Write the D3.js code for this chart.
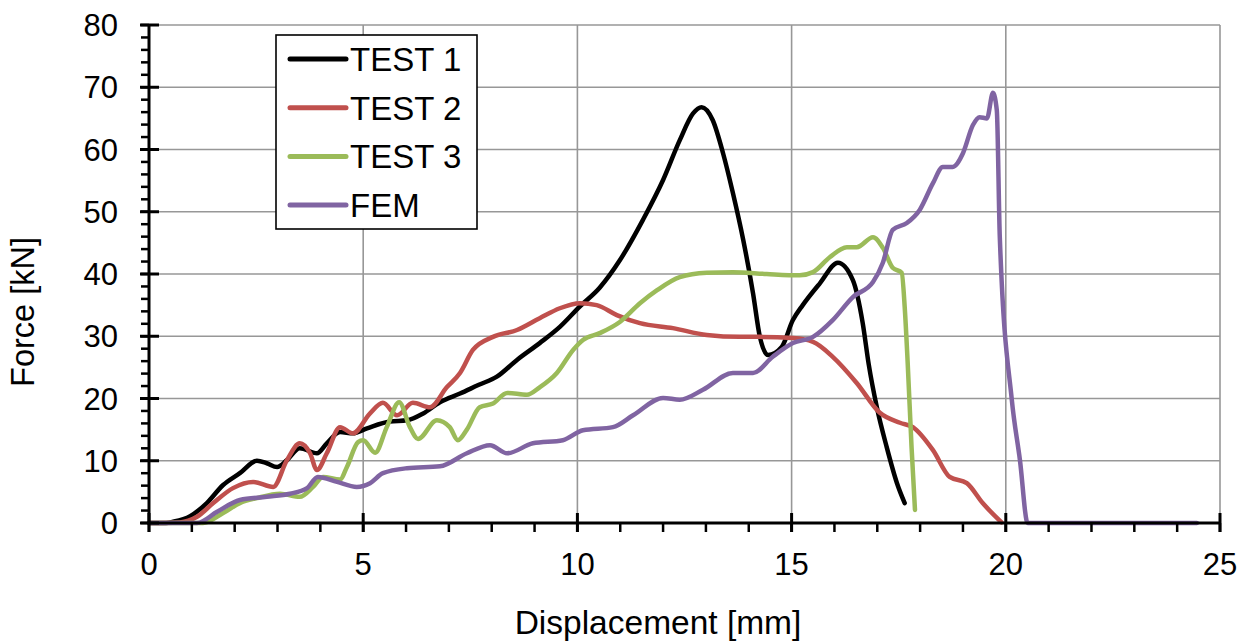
<!DOCTYPE html>
<html>
<head>
<meta charset="utf-8">
<script src="https://cdn.jsdelivr.net/npm/d3@7"></script>
<style>
  body { margin: 0; background: #fff; }
  text { font-family: "Liberation Sans", Arial, sans-serif; fill: #000; }
</style>
</head>
<body>
<svg id="chart" width="1250" height="642"></svg>
<script>
// Series data: [displacement mm, force kN]
const test1 = [
  [0, 0], [0.4, 0], [0.56, 0.2], [0.96, 1.1], [1.35, 3.2], [1.73, 6.1], [2.12, 8.0],
  [2.52, 10.0], [2.75, 9.6], [2.99, 9.0], [3.22, 10.1], [3.52, 12.0], [3.92, 11.2],
  [4.15, 12.8], [4.46, 14.6], [4.76, 14.4], [5.09, 15.2], [5.62, 16.3], [6.02, 16.5],
  [6.4, 17.6], [6.79, 19.4], [7.26, 20.8], [7.7, 22.2], [8.12, 23.5], [8.59, 26.2],
  [9.12, 28.9], [9.59, 31.5], [10.06, 34.8], [10.52, 37.8], [10.99, 42.2], [11.53, 48.7],
  [12.0, 55.1], [12.39, 61.5], [12.7, 65.8], [12.9, 66.8], [13.16, 64.7], [13.4, 59.4],
  [13.63, 53], [13.87, 45.5], [14.1, 36.9], [14.26, 29.9], [14.45, 27], [14.77, 28.3],
  [15.03, 32.6], [15.26, 35], [15.66, 38.5], [16.08, 41.8], [16.43, 39], [16.66, 32.1],
  [16.8, 25.5], [16.99, 18.6], [17.22, 12.2], [17.46, 6.4], [17.64, 3.2]
];
const test2 = [
  [0, 0], [0.72, 0.1], [1.12, 1], [1.5, 3.2], [1.96, 5.6], [2.43, 6.6], [2.9, 5.8],
  [3.22, 10.1], [3.52, 12.8], [3.76, 11.2], [3.92, 8.5], [4.15, 11.2], [4.46, 15.4],
  [4.76, 14.4], [5.16, 17.6], [5.46, 19.3], [5.79, 17.3], [6.16, 19.3], [6.56, 18.6],
  [6.95, 21.8], [7.26, 24.1], [7.56, 27.8], [8.03, 29.9], [8.59, 31], [9.12, 32.9],
  [9.59, 34.5], [10.06, 35.3], [10.45, 35], [10.92, 33.4], [11.46, 32.1], [12.23, 31.3],
  [13.02, 30.2], [13.79, 29.9], [14.26, 29.9], [15.03, 29.7], [15.5, 29.1], [15.96, 26.7],
  [16.52, 22.5], [17.06, 17.7], [17.53, 16.1], [17.83, 15.4], [18.3, 11.7], [18.69, 7.4],
  [19.09, 6.4], [19.46, 3.2], [19.9, 0.1]
];
const test3 = [
  [0, 0], [1.26, 0], [1.73, 1.6], [2.12, 3.2], [2.52, 4], [3.06, 4.7], [3.52, 4.2],
  [3.83, 5.8], [4.06, 7.4], [4.46, 7.0], [4.62, 9], [4.88, 13], [5.0, 13.3], [5.28, 11.3],
  [5.55, 15.4], [5.84, 19.4], [6.09, 15.4], [6.28, 13.5], [6.72, 16.5], [7.02, 15.4],
  [7.21, 13.3], [7.42, 15], [7.72, 18.6], [8.03, 19.2], [8.36, 20.9], [8.82, 20.6],
  [9.12, 21.8], [9.52, 24.1], [9.9, 27.8], [10.13, 29.4], [10.52, 30.5], [10.99, 32.3],
  [11.46, 35.3], [11.86, 37.4], [12.39, 39.5], [13.02, 40.2], [13.63, 40.3], [14.42, 40],
  [15.19, 39.8], [15.5, 40.3], [15.89, 42.7], [16.29, 44.3], [16.52, 44.3], [16.9, 45.9],
  [17.13, 44.2], [17.36, 41], [17.57, 40.2], [17.64, 34.7], [17.71, 25.7], [17.8, 12.2],
  [17.88, 2.1]
];
const fem = [
  [0, 0], [1.12, 0], [1.59, 1.8], [2.12, 3.7], [2.75, 4.2], [3.29, 4.7], [3.69, 5.6],
  [3.94, 7.4], [4.39, 6.6], [4.85, 5.8], [5.16, 6.4], [5.46, 8], [6.02, 8.8], [6.79, 9.1],
  [7.42, 11.2], [7.96, 12.5], [8.36, 11.2], [8.96, 12.8], [9.66, 13.3], [10.13, 14.9],
  [10.83, 15.4], [11.3, 17.3], [12.0, 20.1], [12.39, 19.8], [12.93, 21.4], [13.63, 24.1],
  [14.1, 24.1], [14.56, 26.7], [15.03, 28.9], [15.5, 29.9], [15.96, 32.6], [16.43, 36.3],
  [16.9, 38.7], [17.13, 41.8], [17.36, 47.1], [17.69, 48.2], [17.99, 50.3], [18.3, 54.6],
  [18.53, 57.2], [18.76, 57.2], [19.0, 59.4], [19.23, 63.9], [19.39, 65.2], [19.56, 65],
  [19.7, 69.1], [19.79, 66.3], [19.86, 45.9], [20.14, 19.8], [20.33, 10.1], [20.51, 0],
  [24.46, 0]
];

const seriesNames = ['TEST 1', 'TEST 2', 'TEST 3', 'FEM'];
const seriesColors = ['#000000', '#c0504d', '#9bbb59', '#8064a2'];
const seriesData = [test1, test2, test3, fem];

const xMajor = [0, 5, 10, 15, 20, 25];
const yMajor = [0, 10, 20, 30, 40, 50, 60, 70, 80];

const svg = d3.select('#chart');

const x = d3.scaleLinear().domain([0, 25]).range([149, 1220]);
const y = d3.scaleLinear().domain([0, 80]).range([523, 25]);

// Gridlines
svg.append('g')
  .selectAll('line.gx')
  .data(xMajor.slice(1))
  .join('line')
  .attr('x1', d => x(d)).attr('x2', d => x(d))
  .attr('y1', y(80)).attr('y2', y(0))
  .attr('stroke', '#979797').attr('stroke-width', 1.6);

svg.append('g')
  .selectAll('line.gy')
  .data(yMajor.slice(1))
  .join('line')
  .attr('x1', x(0)).attr('x2', x(25))
  .attr('y1', d => y(d)).attr('y2', d => y(d))
  .attr('stroke', '#979797').attr('stroke-width', 1.6);

// Series lines
const line = d3.line()
  .x(d => x(d[0]))
  .y(d => y(d[1]))
  .curve(d3.curveMonotoneX);

svg.append('g')
  .selectAll('path')
  .data(seriesData)
  .join('path')
  .attr('d', d => line(d))
  .attr('fill', 'none')
  .attr('stroke', (d, i) => seriesColors[i])
  .attr('stroke-width', 4.5)
  .attr('stroke-linejoin', 'round')
  .attr('stroke-linecap', 'round');

// Y axis: minor ticks to the left, major ticks crossing
const yAxis = svg.append('g');
yAxis.selectAll('line.minor')
  .data(d3.range(0, 81, 2))
  .join('line')
  .attr('x1', x(0) - 8).attr('x2', x(0))
  .attr('y1', d => y(d)).attr('y2', d => y(d))
  .attr('stroke', '#000').attr('stroke-width', 2.5);
yAxis.selectAll('line.major')
  .data(yMajor)
  .join('line')
  .attr('x1', x(0) - 9).attr('x2', x(0) + 10)
  .attr('y1', d => y(d)).attr('y2', d => y(d))
  .attr('stroke', '#000').attr('stroke-width', 3);
yAxis.append('line')
  .attr('x1', x(0)).attr('x2', x(0))
  .attr('y1', y(80)).attr('y2', y(0))
  .attr('stroke', '#000').attr('stroke-width', 3);
yAxis.selectAll('text')
  .data(yMajor)
  .join('text')
  .attr('x', 118)
  .attr('y', d => y(d))
  .attr('dy', '0.36em')
  .attr('text-anchor', 'end')
  .attr('font-size', 31)
  .text(d => d);

// X axis: minor ticks below, major ticks crossing
const xAxis = svg.append('g');
xAxis.selectAll('line.minor')
  .data(d3.range(0, 26, 1))
  .join('line')
  .attr('x1', d => x(d)).attr('x2', d => x(d))
  .attr('y1', y(0)).attr('y2', y(0) + 9)
  .attr('stroke', '#000').attr('stroke-width', 2.5);
xAxis.selectAll('line.major')
  .data(xMajor)
  .join('line')
  .attr('x1', d => x(d)).attr('x2', d => x(d))
  .attr('y1', y(0) - 10).attr('y2', y(0) + 9)
  .attr('stroke', '#000').attr('stroke-width', 3);
xAxis.append('line')
  .attr('x1', x(0)).attr('x2', x(25))
  .attr('y1', y(0)).attr('y2', y(0))
  .attr('stroke', '#000').attr('stroke-width', 3);
xAxis.selectAll('text')
  .data(xMajor)
  .join('text')
  .attr('x', d => x(d))
  .attr('y', 575)
  .attr('text-anchor', 'middle')
  .attr('font-size', 31)
  .text(d => d);

// Axis titles
svg.append('text')
  .attr('x', 658).attr('y', 634)
  .attr('text-anchor', 'middle')
  .attr('font-size', 33.5)
  .text('Displacement [mm]');

svg.append('text')
  .attr('transform', 'translate(34,312) rotate(-90)')
  .attr('text-anchor', 'middle')
  .attr('font-size', 32.5)
  .text('Force [kN]');

// Legend
const legend = svg.append('g');
legend.append('rect')
  .attr('x', 276).attr('y', 35)
  .attr('width', 201).attr('height', 194)
  .attr('fill', '#fff')
  .attr('stroke', '#000').attr('stroke-width', 1.6);

const rows = legend.selectAll('g.row')
  .data(seriesNames)
  .join('g')
  .attr('transform', (d, i) => `translate(0,${59 + i * 48.7})`);
rows.append('line')
  .attr('x1', 290).attr('x2', 346)
  .attr('y1', 0).attr('y2', 0)
  .attr('stroke', (d, i) => seriesColors[i])
  .attr('stroke-width', 5)
  .attr('stroke-linecap', 'round');
rows.append('text')
  .attr('x', 350).attr('y', 0)
  .attr('dy', '0.36em')
  .attr('font-size', 33)
  .text(d => d);
</script>
</body>
</html>
